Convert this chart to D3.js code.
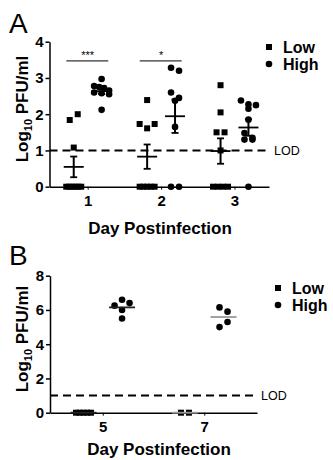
<!DOCTYPE html>
<html>
<head>
<meta charset="utf-8">
<script src="https://cdn.jsdelivr.net/npm/d3@7"></script>
<style>
  body { margin: 0; background: #fff; }
  svg { font-family: "Liberation Sans", Arial, sans-serif; }
</style>
</head>
<body>
<div id="chart"></div>
<script>
// ---- data ----
const seriesNames = ["Low", "High"];
const daysA = [1, 2, 3];
const lowA = [
    [1.84, 2.0, 1.08, 0, 0, 0, 0, 0, 0],
    [2.39, 1.73, 1.61, 1.73, 0, 0, 0, 0, 0],
    [2.8, 2.05, 1.5, 1.5, 1.0, 0, 0, 0, 0]
];
const highA = [
    [2.97, 2.78, 2.75, 2.72, 2.65, 2.6, 2.58, 2.55, 2.12],
    [3.28, 3.2, 2.6, 2.45, 2.37, 1.65, 0, 0],
    [2.38, 2.27, 2.25, 2.15, 1.85, 1.48, 1.35, 1.3, 1.3, 0]
];
const sigDays = [1, 2];
const sigLabels = ["***", "*"];
const daysB = [5, 7];
const lowB = [
    [0, 0, 0, 0, 0],
    [0, 0]
];
const highB = [
    [6.25, 6.6, 6.4, 6.0, 5.5],
    [6.15, 5.9, 5.0, 5.3]
];
const yTicksA = [0, 1, 2, 3, 4];
const yTicksB = [0, 2, 4, 6, 8];
const lod = 1;

const width = 333;
const height = 460;

const svg = d3.select("#chart")
    .append("svg")
    .attr("width", width)
    .attr("height", height);

// spread points with close values side by side (Prism style rows)
function swarm(values, y, step, maxSpan, rowGap) {
    const order = values.map((v, i) => i).sort((a, b) => values[b] - values[a]);
    const rows = [];
    let cur = null;
    order.forEach(i => {
        if (cur && Math.abs(y(values[cur[0]]) - y(values[i])) < rowGap) cur.push(i);
        else { cur = [i]; rows.push(cur); }
    });
    const off = new Array(values.length).fill(0);
    rows.forEach(r => {
        r.sort((a, b) => a - b);
        const s = r.length > 1 ? Math.min(step, maxSpan / (r.length - 1)) : 0;
        r.forEach((i, k) => off[i] = (k - (r.length - 1) / 2) * s);
    });
    return values.map((v, i) => ({ v: v, dx: off[i] }));
}

function styleAxis(g, fs) {
    g.select(".domain").attr("stroke-width", 1.5);
    g.selectAll(".tick line").attr("stroke-width", 1.5);
    g.selectAll(".tick text")
        .attr("fill", "#000")
        .style("font-size", fs + "px")
        .style("font-weight", "bold");
}

function drawPanel(o) {
    const x = d3.scaleLinear().domain(o.xDomain).range(o.xRange);
    const y = d3.scaleLinear().domain(o.yDomain).range(o.yRange);

    // LOD dashed line
    svg.append("line")
        .attr("x1", x(o.xDomain[0])).attr("x2", o.lodEnd)
        .attr("y1", y(lod)).attr("y2", y(lod))
        .attr("stroke", "#000")
        .attr("stroke-width", 2)
        .attr("stroke-dasharray", "8,5");
    svg.append("text")
        .attr("x", o.lodEnd + 4)
        .attr("y", y(lod) + 4.5)
        .style("font-size", "12.5px")
        .text("LOD");

    // axes
    const yAxis = svg.append("g")
        .attr("transform", `translate(${o.xRange[0]},0)`)
        .call(d3.axisLeft(y).tickValues(o.yTicks).tickFormat(d3.format("d"))
            .tickSize(4).tickSizeOuter(0).tickPadding(2));
    styleAxis(yAxis, 15);

    const xAxis = svg.append("g")
        .attr("transform", `translate(0,${o.yRange[0]})`)
        .call(d3.axisBottom(x).tickValues(o.days).tickFormat(d3.format("d"))
            .tickSize(3).tickSizeOuter(0).tickPadding(6));
    styleAxis(xAxis, 15);
    xAxis.selectAll(".tick line").attr("stroke-width", 1);

    // points
    const groups = [o.low, o.high];
    groups.forEach((set, s) => {
        set.forEach((vals, d) => {
            const cx = x(o.days[d] + (s === 0 ? -o.offset : o.offset));
            const pts = swarm(vals, y, 8, 15, 6.5);
            if (s === 0) {
                svg.selectAll(null).data(pts).enter().append("rect")
                    .attr("x", p => cx + p.dx - 3)
                    .attr("y", p => y(p.v) - 3)
                    .attr("width", 6).attr("height", 6)
                    .attr("fill", "#000");
            } else {
                svg.selectAll(null).data(pts).enter().append("circle")
                    .attr("cx", p => cx + p.dx)
                    .attr("cy", p => y(p.v))
                    .attr("r", 3.3)
                    .attr("fill", "#000");
            }

            // mean (and SEM)
            const m = d3.mean(vals);
            const col = o.meanColor ? o.meanColor(s, d) : "#000";
            svg.append("line")
                .attr("x1", cx - o.meanW / 2).attr("x2", cx + o.meanW / 2)
                .attr("y1", y(m)).attr("y2", y(m))
                .attr("stroke", col).attr("stroke-width", 1.8);
            if (o.sem) {
                const se = d3.deviation(vals) / Math.sqrt(vals.length);
                svg.append("line")
                    .attr("x1", cx).attr("x2", cx)
                    .attr("y1", y(m - se)).attr("y2", y(m + se))
                    .attr("stroke", col).attr("stroke-width", 2);
                [m - se, m + se].forEach(v => {
                    svg.append("line")
                        .attr("x1", cx - 3.5).attr("x2", cx + 3.5)
                        .attr("y1", y(v)).attr("y2", y(v))
                        .attr("stroke", col).attr("stroke-width", 1.8);
                });
            }
        });
    });

    // y-axis label
    const yl = svg.append("text")
        .attr("transform", `translate(28,${o.yLabelY}) rotate(-90)`)
        .style("text-anchor", "middle")
        .style("font-size", "17px")
        .style("font-weight", "bold");
    yl.append("tspan").text("Log");
    yl.append("tspan").attr("dy", 4).style("font-size", "11px").text("10");
    yl.append("tspan").attr("dy", -4).text(" PFU/ml");

    // x-axis label
    svg.append("text")
        .attr("x", o.xLabelX)
        .attr("y", o.xLabelY)
        .style("text-anchor", "middle")
        .style("font-size", "17px")
        .style("font-weight", "bold")
        .text("Day Postinfection");

    // panel letter
    svg.append("text")
        .attr("x", 9)
        .attr("y", o.letterY)
        .style("font-size", "28px")
        .text(o.letter);

    // legend
    const lg = svg.append("g").attr("transform", `translate(${o.legendX},${o.legendY})`);
    lg.append("rect").attr("x", -3).attr("y", -3).attr("width", 6).attr("height", 6).attr("fill", "#000");
    lg.append("circle").attr("cx", 0).attr("cy", 17).attr("r", 3.3).attr("fill", "#000");
    seriesNames.forEach((n, i) => {
        lg.append("text")
            .attr("x", 14)
            .attr("y", i * 17 + 6)
            .style("font-size", "16px")
            .style("font-weight", "bold")
            .text(n);
    });

    return { x: x, y: y };
}

// ---- panel A ----
const A = drawPanel({
    letter: "A", letterY: 33,
    xDomain: [0.48, 3.47], xRange: [49.5, 269],
    yDomain: [0, 4], yRange: [186.7, 41.7],
    days: daysA, low: lowA, high: highA, yTicks: yTicksA,
    offset: 0.19, meanW: 20, sem: true,
    lodEnd: 270,
    yLabelY: 109, xLabelX: 160, xLabelY: 234,
    legendX: 269, legendY: 47
});

// significance bars
sigDays.forEach((d, i) => {
    svg.append("line")
        .attr("x1", A.x(d - 0.29)).attr("x2", A.x(d + 0.28))
        .attr("y1", A.y(3.47)).attr("y2", A.y(3.47))
        .attr("stroke", "#000").attr("stroke-width", 1);
    svg.append("text")
        .attr("x", A.x(d))
        .attr("y", A.y(3.47) - 1.5)
        .style("text-anchor", "middle")
        .style("font-size", "11px")
        .text(sigLabels[i]);
});

// ---- panel B ----
drawPanel({
    letter: "B", letterY: 265,
    xDomain: [3.96, 8.04], xRange: [50, 257],
    yDomain: [0, 8], yRange: [412.7, 275.7],
    days: daysB, low: lowB, high: highB, yTicks: yTicksB,
    offset: 0.38, meanW: 26, sem: false,
    meanColor: (s, d) => d === 1 ? "#999" : "#222",
    lodEnd: 257,
    yLabelY: 339, xLabelX: 159, xLabelY: 455,
    legendX: 278, legendY: 288
});
</script>
</body>
</html>
